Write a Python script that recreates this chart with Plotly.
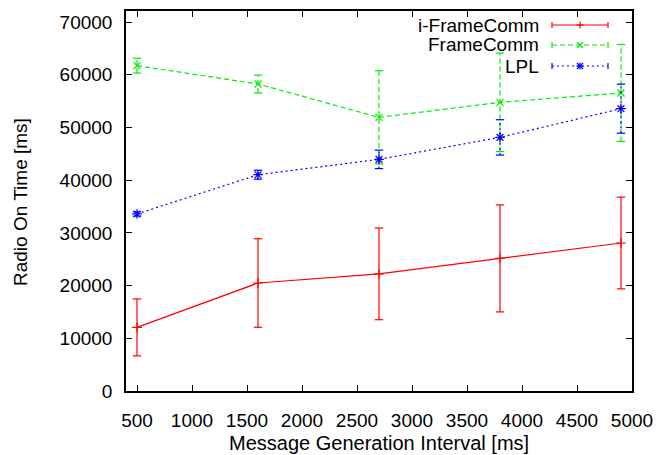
import plotly.graph_objects as go

# ---- data ----
intervals = [500, 1600, 2700, 3800, 4900]
iframecomm = [12070, 20490, 22230, 25160, 28080]
iframecomm_err = [5400, 8400, 8700, 10150, 8700]
framecomm = [61730, 58250, 51920, 54770, 56550]
framecomm_err = [1400, 1700, 8850, 9350, 9200]
lpl = [33590, 41040, 43950, 48120, 53570]
lpl_err = [400, 850, 1750, 3350, 4650]
series_names = ["i-FrameComm", "FrameComm", "LPL"]
x_ticks = [500, 1000, 1500, 2000, 2500, 3000, 3500, 4000, 4500, 5000]
y_ticks = [0, 10000, 20000, 30000, 40000, 50000, 60000, 70000]
x_title = "Message Generation Interval [ms]"
y_title = "Radio On Time [ms]"

FONT = "Liberation Sans, Arial, sans-serif"
FS = 19

styles = [
    dict(color="#ff0000", dash="solid", symbol="cross-thin", msize=7),
    dict(color="#00ee00", dash="5px,3px", symbol="x-thin", msize=7),
    dict(color="#0000ff", dash="2px,3px", symbol="asterisk", msize=8),
]
series = [(iframecomm, iframecomm_err), (framecomm, framecomm_err), (lpl, lpl_err)]

fig = go.Figure()
for (vals, errs), st in zip(series, styles):
    ex, ey = [], []
    for xv, yv, e in zip(intervals, vals, errs):
        ex += [xv, xv, None]
        ey += [yv - e, yv + e, None]
    fig.add_trace(go.Scatter(x=ex, y=ey, mode="lines", showlegend=False,
                             line=dict(color=st["color"], width=1.2, dash=st["dash"]),
                             hoverinfo="skip"))
    caps_x = intervals + intervals
    caps_y = [v - e for v, e in zip(vals, errs)] + [v + e for v, e in zip(vals, errs)]
    fig.add_trace(go.Scatter(x=caps_x, y=caps_y, mode="markers", showlegend=False,
                             marker=dict(symbol="line-ew", size=6,
                                         line=dict(color=st["color"], width=1.2)),
                             hoverinfo="skip"))
    fig.add_trace(go.Scatter(x=intervals, y=vals, mode="lines+markers", showlegend=False,
                             line=dict(color=st["color"], width=1.2, dash=st["dash"]),
                             marker=dict(symbol=st["symbol"], size=st["msize"], color=st["color"],
                                         line=dict(color=st["color"], width=1.2))))

# ---- gnuplot-style legend (text left, sample right) ----
L, R, T, B = 126, 632, 11, 391
W, H = R - L, B - T
def px(xp):
    return (xp - L) / W
def py(yp):
    return (B - yp) / H

rows_y = [25, 45, 66]
shapes = []
annotations = []
for name, st, ry in zip(series_names, styles, rows_y):
    annotations.append(dict(x=px(541), y=py(ry), xref="paper", yref="paper",
                            text=name, showarrow=False, xanchor="right", yanchor="middle",
                            font=dict(family=FONT, size=FS, color="black")))
    lw = dict(color=st["color"], width=1.2, dash=st["dash"])
    solid = dict(color=st["color"], width=1.2)
    shapes.append(dict(type="line", xref="paper", yref="paper",
                       x0=px(552), x1=px(608), y0=py(ry), y1=py(ry), line=lw))
    for cx in (552, 608):
        shapes.append(dict(type="line", xref="paper", yref="paper",
                           x0=px(cx), x1=px(cx), y0=py(ry - 3), y1=py(ry + 3), line=solid))
    mx = 580
    if st["symbol"] in ("cross-thin", "asterisk"):
        shapes.append(dict(type="line", xref="paper", yref="paper",
                           x0=px(mx), x1=px(mx), y0=py(ry - 3.5), y1=py(ry + 3.5), line=solid))
        shapes.append(dict(type="line", xref="paper", yref="paper",
                           x0=px(mx - 3.5), x1=px(mx + 3.5), y0=py(ry), y1=py(ry), line=solid))
    if st["symbol"] in ("x-thin", "asterisk"):
        shapes.append(dict(type="line", xref="paper", yref="paper",
                           x0=px(mx - 3), x1=px(mx + 3), y0=py(ry - 3), y1=py(ry + 3), line=solid))
        shapes.append(dict(type="line", xref="paper", yref="paper",
                           x0=px(mx - 3), x1=px(mx + 3), y0=py(ry + 3), y1=py(ry - 3), line=solid))

# axis titles as annotations (gnuplot placement)
annotations.append(dict(x=0.5, y=py(443), xref="paper", yref="paper", text=x_title,
                        showarrow=False, xanchor="center", yanchor="middle",
                        font=dict(family=FONT, size=20, color="black")))
annotations.append(dict(x=px(20), y=py(202), xref="paper", yref="paper", text=y_title,
                        showarrow=False, xanchor="center", yanchor="middle", textangle=-90,
                        font=dict(family=FONT, size=FS, color="black")))

axis_common = dict(showline=True, linecolor="black", linewidth=1.5, mirror="ticks",
                   ticks="inside", ticklen=6, tickwidth=1, tickcolor="black",
                   showgrid=False, zeroline=False, automargin=False,
                   tickfont=dict(family=FONT, size=FS, color="black"))

fig.update_layout(
    width=657, height=455,
    margin=dict(l=L, r=657 - R, t=T, b=455 - B),
    plot_bgcolor="white", paper_bgcolor="white",
    showlegend=False,
    shapes=shapes, annotations=annotations,
    xaxis=dict(range=[400, 5000], tickvals=x_ticks, ticktext=[str(v) for v in x_ticks],
               ticklabelstandoff=11, **axis_common),
    yaxis=dict(range=[0, 72100], tickvals=y_ticks, ticktext=[str(v) for v in y_ticks],
               ticklabelstandoff=8, **axis_common),
)

fig.write_html("out.html", config={"displayModeBar": False},
               post_script="document.body.style.margin='0px';")
